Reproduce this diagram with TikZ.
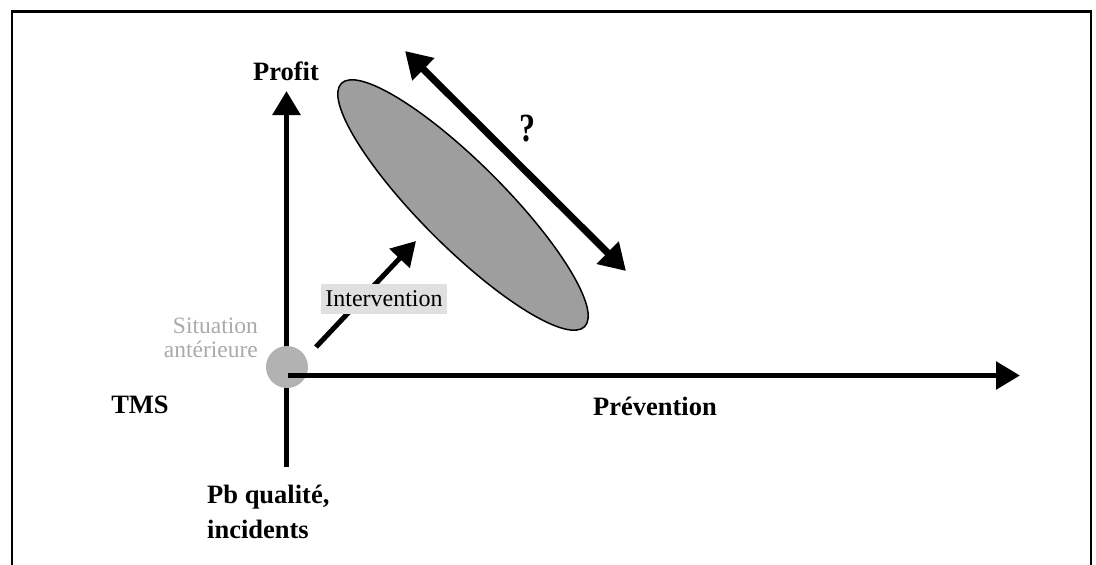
\documentclass[tikz,border=0pt]{standalone}
\usepackage{fontspec}
\setmainfont{Liberation Serif}
\usetikzlibrary{arrows.meta,shapes.geometric}
\definecolor{cloud}{RGB}{158,158,158}
\definecolor{dot}{RGB}{178,178,178}
\definecolor{tag}{RGB}{224,224,224}
\definecolor{faint}{RGB}{170,170,170}
\begin{document}
\begin{tikzpicture}[x=1pt,y=-1pt,
  axis/.style={line width=5.5pt,-{Triangle[length=24pt,width=27pt]}},
  spanarrow/.style={line width=7pt,{Triangle[length=26pt,width=30pt]}-{Triangle[length=26pt,width=30pt]}},
  lbl/.style={font=\fontsize{26.5}{35}\selectfont\bfseries,inner sep=0pt},
  note/.style={font=\fontsize{23.5}{24}\selectfont,text=faint,inner sep=0pt,align=right}]
\useasboundingbox (0,0) rectangle (1096,565);

% open frame (no bottom edge)
\draw[line width=2.2pt] (12,565) -- (12,11.5) -- (1091,11.5) -- (1091,565);

% axis labels (multi-line nodes are placed by the baseline of their last line)
\node[lbl,anchor=base] (profit) at (286,80) {Profit};
\node[lbl,anchor=base] (tms) at (140,413) {TMS};
\node[lbl,anchor=base] (prev) at (655,415) {Prévention};
\node[lbl,anchor=base west,align=left] (pb) at (207,538) {Pb qualité,\\incidents};

% axes
\coordinate (vbot) at (286.5,467);
\coordinate (vtip) at (286.5,91);
\coordinate (hstart) at (288,375.5);
\coordinate (htip) at (1020,375.5);
\draw[axis] (vbot) -- (vtip);
\node[circle,fill=dot,minimum size=42pt,inner sep=0pt] (start) at (287,367) {};
\draw[axis] (hstart) -- (htip);

% earlier situation
\node[note,anchor=base east] (situ) at (258,357) {Situation\\antérieure};

% target zone
\node[ellipse,draw,line width=1.5pt,fill=cloud,minimum width=344pt,minimum height=84pt,rotate=-45] (zone) at (463,205) {};

% intervention
\coordinate (istart) at (316,347);
\coordinate (itip) at (416,241);
\draw[line width=5pt,-{Triangle[length=24pt,width=27pt]}] (istart) -- (itip);
\node[fill=tag,font=\fontsize{24}{24}\selectfont,text height=17pt,text depth=3pt,inner xsep=4.5pt,inner ysep=5pt,anchor=base] (interv) at (384,306) {Intervention};

% uncertain range
\coordinate (rtop) at (405,51);
\coordinate (rbot) at (626,271);
\draw[spanarrow] (rtop) -- (rbot);
\node[inner sep=0pt,font=\fontsize{40}{40}\selectfont\bfseries,xscale=0.8] (q) at (527.5,128.5) {?};
\end{tikzpicture}
\end{document}
